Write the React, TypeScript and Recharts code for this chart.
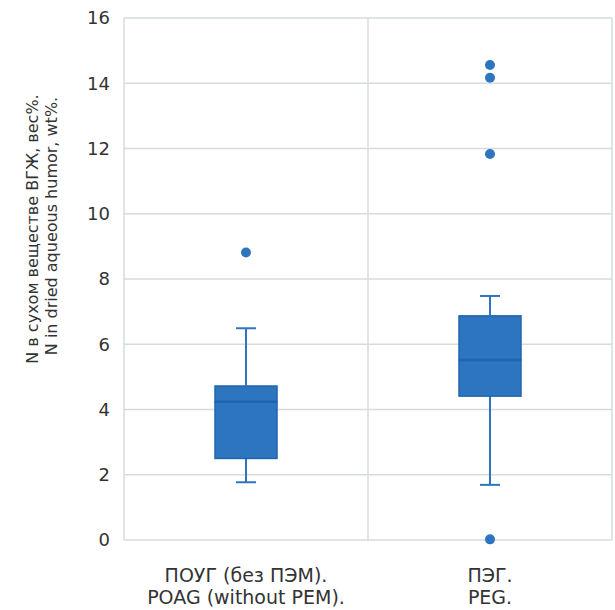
import React from 'react'
import { ComposedChart, Bar, Line, XAxis, YAxis, CartesianGrid } from 'recharts'

const labelsRu = ['ПОУГ (без ПЭМ).', 'ПЭГ.']
const labelsEn = ['POAG (without PEM).', 'PEG.']
const mins = [1.77, 1.69]
const q1s = [2.5, 4.41]
const medians = [4.24, 5.52]
const q3s = [4.72, 6.87]
const maxs = [6.49, 7.48]
const outliers = [[8.81], [14.56, 14.17, 11.83, 0.02]]
const yTicks = [0, 2, 4, 6, 8, 10, 12, 14, 16]

const BLUE = '#2E75C0'
const DARK = '#1F65B0'
const FONT = '"DejaVu Sans", sans-serif'

const data = labelsEn.map((en, i) => {
  const row: Record<string, number | string> = {
    name: en,
    base: mins[i],
    lowW: q1s[i] - mins[i],
    boxLow: medians[i] - q1s[i],
    boxHigh: q3s[i] - medians[i],
    highW: maxs[i] - q3s[i],
  }
  outliers[i].forEach((v, k) => {
    row['o' + k] = v
  })
  return row
})

const LowWhisker = (p: any) => {
  const cx = p.x + p.width / 2
  const yb = p.y + p.height
  return (
    <g stroke={BLUE} strokeWidth={2}>
      <line x1={cx} y1={p.y} x2={cx} y2={yb} />
      <line x1={cx - 10} y1={yb} x2={cx + 10} y2={yb} />
    </g>
  )
}

const HighWhisker = (p: any) => {
  const cx = p.x + p.width / 2
  return (
    <g stroke={BLUE} strokeWidth={2}>
      <line x1={cx} y1={p.y} x2={cx} y2={p.y + p.height} />
      <line x1={cx - 10} y1={p.y} x2={cx + 10} y2={p.y} />
    </g>
  )
}

const BoxLow = (p: any) => (
  <rect x={p.x} y={p.y} width={p.width} height={p.height} fill={BLUE} stroke={DARK} strokeWidth={1.5} />
)

const BoxHigh = (p: any) => (
  <g>
    <rect x={p.x} y={p.y} width={p.width} height={p.height} fill={BLUE} stroke={DARK} strokeWidth={1.5} />
    <line x1={p.x} y1={p.y + p.height} x2={p.x + p.width} y2={p.y + p.height} stroke={DARK} strokeWidth={2.5} />
  </g>
)

const XTick = (p: any) => {
  const i = p.payload.index
  return (
    <text x={p.x} y={p.y} textAnchor="middle" fill="#333" fontSize={19} fontFamily={FONT}>
      <tspan x={p.x} dy={34}>{labelsRu[i]}</tspan>
      <tspan x={p.x} dy={22}>{labelsEn[i]}</tspan>
    </text>
  )
}

const YLabel = () => (
  <g fill="#333" fontSize={16} fontFamily={FONT} textAnchor="middle">
    <text x={38} y={229} transform="rotate(-90, 38, 229)">N в сухом веществе ВГЖ, вес%.</text>
    <text x={57} y={226} transform="rotate(-90, 57, 226)">N in dried aqueous humor, wt%.</text>
  </g>
)

export default function App() {
  return (
    <div style={{ position: 'absolute', left: 0, top: 0, background: '#fff' }}>
      <ComposedChart width={615} height={610} data={data} margin={{ top: 18, right: 3, left: 0, bottom: 0 }}>
        <CartesianGrid
          stroke="#D5DBDF"
          strokeWidth={1.5}
          verticalCoordinatesGenerator={({ offset }: any) => [
            offset.left,
            offset.left + offset.width / 2,
            offset.left + offset.width,
          ]}
        />
        <XAxis dataKey="name" axisLine={false} tickLine={false} interval={0} height={70} tick={<XTick />} />
        <YAxis
          domain={[0, 16]}
          ticks={yTicks}
          width={124}
          axisLine={false}
          tickLine={false}
          tickMargin={8}
          tick={{ fill: '#333', fontSize: 18, fontFamily: FONT }}
          label={{ content: () => <YLabel /> }}
        />
        <Bar dataKey="base" stackId="b" fill="none" barSize={62} isAnimationActive={false} />
        <Bar dataKey="lowW" stackId="b" barSize={62} shape={<LowWhisker />} isAnimationActive={false} />
        <Bar dataKey="boxLow" stackId="b" barSize={62} shape={<BoxLow />} isAnimationActive={false} />
        <Bar dataKey="boxHigh" stackId="b" barSize={62} shape={<BoxHigh />} isAnimationActive={false} />
        <Bar dataKey="highW" stackId="b" barSize={62} shape={<HighWhisker />} isAnimationActive={false} />
        {[0, 1, 2, 3].map((k) => (
          <Line
            key={k}
            dataKey={'o' + k}
            stroke="none"
            dot={{ r: 5, fill: BLUE, stroke: 'none' }}
            activeDot={false}
            isAnimationActive={false}
          />
        ))}
      </ComposedChart>
    </div>
  )
}
